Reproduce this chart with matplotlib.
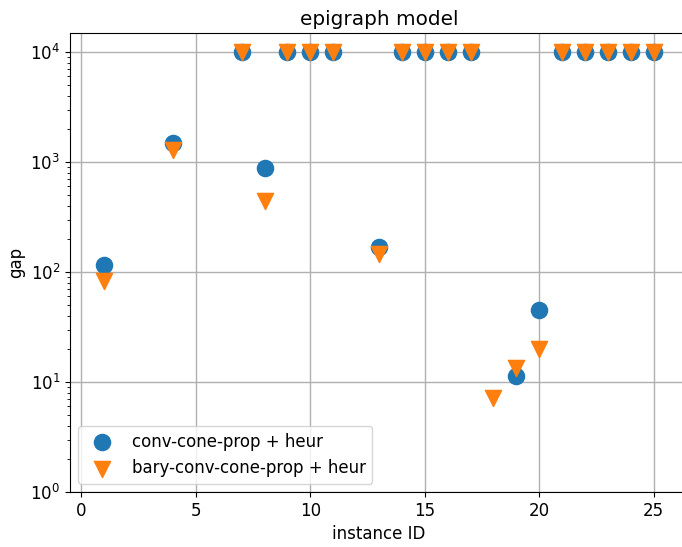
import numpy as np
import matplotlib
matplotlib.use('Agg')
import matplotlib.pyplot as plt

plt.rcParams['font.size'] = 12

# gap per instance (1e4 = hit the cap)
ids_conv = [1, 4, 7, 8, 9, 10, 11, 13, 14, 15, 16, 17, 19, 20, 21, 22, 23, 24, 25]
gap_conv = [116, 1480, 1e4, 877, 1e4, 1e4, 1e4, 170, 1e4, 1e4, 1e4, 1e4,
            11.4, 45, 1e4, 1e4, 1e4, 1e4, 1e4]

ids_bary = [1, 4, 7, 8, 9, 10, 11, 13, 14, 15, 16, 17, 18, 19, 20, 21, 22, 23, 24, 25]
gap_bary = [83, 1300, 1e4, 442, 1e4, 1e4, 1e4, 145, 1e4, 1e4, 1e4, 1e4,
            7.2, 13.4, 20, 1e4, 1e4, 1e4, 1e4, 1e4]

W, H = 682, 547
fig = plt.figure(figsize=(W / 100, H / 100), dpi=100)
ax = fig.add_axes([70 / W, (H - 492) / H, (688 - 70) / W, (492 - 33) / H])

ax.scatter(ids_conv, gap_conv, s=135, marker='o', color='tab:blue',
           label='conv-cone-prop + heur', zorder=3)
ax.scatter(ids_bary, gap_bary, s=135, marker='v', color='tab:orange',
           label='bary-conv-cone-prop + heur', zorder=3)

ax.set_yscale('log')
ax.set_ylim(1, 1.49e4)
ax.set_xlim(-0.5, 26.5)
ax.set_xticks([0, 5, 10, 15, 20, 25])
ax.grid(True, which='major', color='#b0b0b0', linewidth=1)
ax.set_axisbelow(True)

ax.set_title('epigraph model')
ax.set_xlabel('instance ID')
ax.set_ylabel('gap')
ax.legend(loc='lower left')

fig.savefig('out.png', dpi=100)
